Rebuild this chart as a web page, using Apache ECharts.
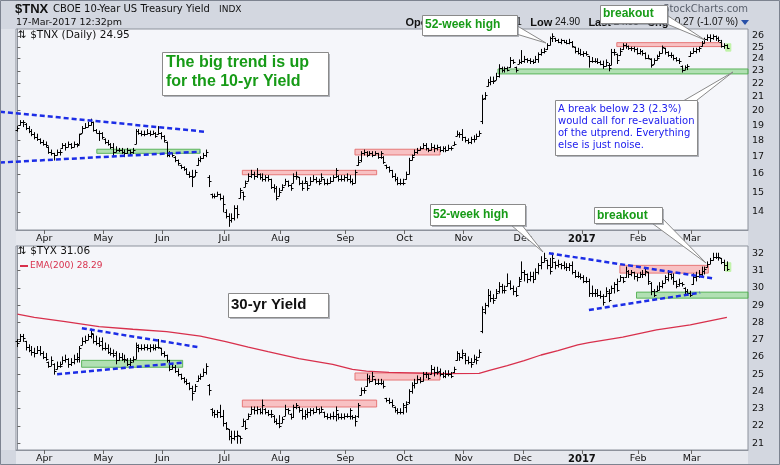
<!DOCTYPE html>
<html><head><meta charset="utf-8">
<script src="https://cdn.jsdelivr.net/npm/echarts@6.0.0/dist/echarts.min.js"></script>
<style>html,body{margin:0;padding:0;background:#d3d7e0}#c{width:780px;height:465px}</style>
</head><body><div id="c"></div>
<script>
// ---- categories / ticks (bar index of month boundaries; bar 0 = 17-Mar-2016, bar 252 = 17-Mar-2017)
const monthTickIdx = [9.5,30.5,51.5,73.5,93.5,116.5,137.5,158.5,179.5,200.5,220.5,239.5];
const monthLabels  = ['Apr','May','Jun','Jul','Aug','Sep','Oct','Nov','Dec','2017','Feb','Mar'];
const tnxTickLabels = [14,15,16,17,18,19,20,21,22,23,24,25,26];
const tyxTickLabels = [21,22,23,24,25,26,27,28,29,30,31,32];

// ---- $TNX daily bars [open, high, low, close]
const tnxOHLC = [
[18.7,18.9,18.6,18.8],[19.0,19.3,19.0,19.2],[19.2,19.3,18.9,19.2],[19.1,19.1,18.7,18.8],[18.8,18.9,18.5,18.6],[18.6,18.7,18.3,18.4],[18.4,18.5,18.1,18.2],[18.2,18.4,18.0,18.1],[18.1,18.1,17.8,17.9],[17.9,18.0,17.7,17.8],
[17.8,17.9,17.6,17.7],[17.6,17.6,17.2,17.3],[17.3,17.4,17.1,17.2],[17.2,17.2,16.8,17.1],[17.1,17.4,17.1,17.3],[17.3,17.4,17.1,17.3],[17.5,17.8,17.5,17.7],[17.7,17.8,17.4,17.6],[17.6,17.9,17.6,17.8],[17.8,17.8,17.5,17.6],
[17.6,17.9,17.6,17.8],[17.8,17.8,17.6,17.7],[17.8,18.4,17.8,18.4],[18.5,18.9,18.5,18.8],[18.8,19.1,18.8,18.9],[18.9,19.2,18.9,19.0],[19.0,19.4,19.0,19.2],[19.2,19.2,18.6,18.7],[18.7,18.7,18.5,18.5],[18.5,18.6,18.0,18.5],
[18.5,18.5,18.1,18.2],[18.1,18.1,17.8,17.9],[17.9,18.0,17.7,17.8],[17.8,17.8,17.5,17.6],[17.6,17.8,17.0,17.3],[17.3,17.6,17.3,17.4],[17.4,17.5,17.3,17.4],[17.4,17.5,17.2,17.3],[17.3,17.4,17.0,17.2],[17.2,17.5,17.2,17.4],
[17.4,17.4,17.1,17.3],[17.3,17.5,17.2,17.4],[17.8,18.7,17.8,18.6],[18.6,18.7,18.4,18.5],[18.5,18.6,18.3,18.4],[18.4,18.6,18.3,18.4],[18.4,18.7,18.4,18.5],[18.5,18.6,18.3,18.4],[18.4,18.6,18.4,18.5],[18.5,18.5,18.2,18.3],
[18.4,18.9,18.4,18.5],[18.5,18.5,18.1,18.3],[18.3,18.3,17.9,18.0],[17.9,17.9,17.0,17.1],[17.1,17.3,17.0,17.2],[17.2,17.2,17.0,17.1],[17.0,17.0,16.7,16.8],[16.8,16.8,16.5,16.6],[16.5,16.5,16.3,16.4],[16.4,16.4,16.2,16.3],
[16.3,16.3,16.0,16.0],[16.0,16.1,15.8,15.9],[15.9,16.2,15.3,15.8],[15.9,16.2,15.9,16.1],[16.5,16.9,16.5,16.8],[16.8,17.0,16.7,16.9],[16.9,17.2,16.9,17.1],[17.1,17.4,17.0,17.3],[15.8,15.9,15.3,15.6],[14.9,14.9,14.7,14.8],
[14.8,14.9,14.7,14.8],[14.8,15.0,14.8,14.9],[14.9,14.9,14.6,14.7],[14.7,14.8,14.0,14.4],[14.0,14.1,13.7,13.8],[13.8,13.9,13.3,13.6],[13.6,13.9,13.5,13.7],[13.7,14.3,13.6,14.2],[14.2,14.3,13.7,13.9],[14.7,15.2,14.7,15.1],
[15.0,15.0,14.6,14.8],[15.3,15.6,15.3,15.5],[15.6,16.0,15.6,15.9],[15.9,16.2,15.8,16.0],[16.0,16.1,15.7,15.9],[15.9,16.3,15.8,16.0],[16.0,16.0,15.7,15.8],[15.8,16.0,15.6,15.7],[15.7,15.9,15.6,15.8],[15.8,15.9,15.6,15.7],
[15.7,15.7,15.2,15.3],[15.3,15.4,15.0,15.2],[15.2,15.3,14.6,14.7],[14.8,15.2,14.8,15.0],[15.1,15.4,15.1,15.3],[15.4,15.7,15.4,15.6],[15.6,15.6,15.3,15.4],[15.4,15.4,15.1,15.2],[15.5,16.0,15.5,15.9],[15.9,16.1,15.7,15.9],
[15.8,15.8,15.4,15.5],[15.5,15.6,15.1,15.2],[15.5,15.8,15.5,15.6],[15.5,15.5,15.1,15.2],[15.4,15.8,15.4,15.6],[15.6,15.9,15.6,15.7],[15.7,15.8,15.5,15.6],[15.6,15.7,15.4,15.5],[15.6,16.0,15.6,15.8],[15.7,15.7,15.4,15.5],
[15.5,15.7,15.4,15.5],[15.5,15.8,15.5,15.6],[15.6,15.9,15.6,15.8],[15.8,16.3,15.8,16.2],[15.9,15.9,15.6,15.7],[15.7,15.9,15.6,15.7],[15.7,15.9,15.6,15.8],[15.8,16.0,15.6,15.7],[15.7,15.9,15.5,15.6],[15.6,15.7,15.4,15.5],
[15.5,16.2,15.5,16.1],[16.5,17.0,16.5,16.7],[16.8,17.3,16.7,17.2],[17.2,17.4,17.1,17.3],[17.3,17.3,17.0,17.1],[17.1,17.3,17.1,17.2],[17.2,17.3,17.0,17.1],[17.1,17.3,17.1,17.2],[17.2,17.2,16.9,17.0],[17.0,17.3,16.9,17.2],
[17.0,17.0,16.6,16.7],[16.5,16.5,16.3,16.4],[16.4,16.4,16.1,16.2],[16.2,16.2,15.8,15.9],[15.9,16.0,15.6,15.7],[15.7,15.8,15.4,15.5],[15.5,15.7,15.4,15.5],[15.5,15.7,15.4,15.5],[15.7,16.1,15.7,16.0],[16.0,16.9,16.0,16.8],
[16.8,17.1,16.8,17.0],[17.1,17.4,17.1,17.3],[17.3,17.5,17.2,17.4],[17.4,17.6,17.4,17.5],[17.5,17.8,17.5,17.7],[17.7,17.8,17.4,17.5],[17.5,17.5,17.3,17.4],[17.4,17.8,17.4,17.6],[17.6,17.7,17.3,17.5],[17.5,17.7,17.4,17.6],
[17.6,17.6,17.3,17.4],[17.4,17.6,17.3,17.5],[17.5,17.6,17.3,17.4],[17.4,17.7,17.4,17.5],[17.5,17.6,17.4,17.5],[17.7,17.9,17.7,17.8],[18.3,18.6,18.3,18.4],[18.4,18.5,18.2,18.4],[18.4,18.7,18.0,18.2],[18.2,18.2,17.9,18.0],
[18.0,18.1,17.8,17.9],[17.9,18.2,17.8,18.1],[18.1,18.3,17.9,18.1],[18.1,18.4,18.1,18.3],[18.3,18.6,18.3,18.5],[19.3,21.1,19.1,20.8],[20.9,21.3,20.8,21.1],[21.8,22.3,21.8,22.1],[22.1,22.5,21.9,22.2],[22.2,22.5,22.0,22.2],
[22.3,22.8,22.3,22.6],[22.6,23.5,22.5,23.2],[23.2,23.3,22.9,23.1],[23.1,23.3,22.9,23.2],[23.2,23.3,23.0,23.1],[23.3,24.1,23.3,23.9],[23.9,23.9,23.6,23.7],[23.3,23.3,22.9,23.1],[23.6,23.9,23.6,23.7],[23.7,24.7,23.6,23.8],
[23.8,24.2,23.7,24.0],[24.0,24.0,23.7,23.9],[23.9,24.0,23.6,23.8],[23.8,23.9,23.6,23.7],[23.7,24.2,23.7,24.0],[24.0,24.5,23.7,24.4],[24.4,24.8,24.3,24.6],[24.6,24.9,24.5,24.7],[24.8,25.3,24.8,25.2],[25.2,25.9,25.2,25.8],
[25.8,26.2,25.5,26.0],[25.8,25.8,25.5,25.6],[25.6,25.7,25.4,25.5],[25.5,25.7,25.3,25.6],[25.6,25.6,25.4,25.5],[25.5,25.6,25.3,25.4],[25.4,25.7,25.3,25.5],[25.5,25.5,25.0,25.1],[25.0,25.0,24.5,24.7],[24.7,24.9,24.4,24.5],
[24.5,24.8,24.3,24.4],[24.4,24.6,24.2,24.5],[24.5,24.6,24.3,24.4],[24.2,24.2,23.3,23.8],[23.8,24.1,23.7,23.8],[23.8,24.0,23.7,23.8],[23.8,24.0,23.6,23.7],[23.7,23.8,23.5,23.6],[23.6,23.8,23.2,23.4],[23.4,23.9,23.4,23.7],
[23.5,23.6,23.0,23.2],[23.5,24.8,23.5,24.6],[24.6,24.8,24.3,24.6],[24.4,24.4,23.6,23.9],[24.3,24.9,24.3,24.7],[24.8,25.3,24.8,25.2],[25.2,25.3,24.9,25.1],[25.1,25.1,24.8,24.9],[24.9,25.0,24.7,24.9],[24.9,25.0,24.6,24.8],
[24.8,24.9,24.4,24.5],[24.5,24.8,24.4,24.7],[24.7,24.7,24.3,24.5],[24.5,24.5,24.0,24.1],[24.1,24.3,24.0,24.1],[24.0,24.0,23.3,23.5],[23.6,24.0,23.6,23.9],[23.9,24.3,23.9,24.1],[24.2,24.6,24.2,24.5],[24.5,25.1,24.5,25.0],
[24.9,24.9,24.4,24.6],[24.6,24.6,24.2,24.3],[24.3,24.5,24.1,24.3],[24.3,24.3,23.9,24.1],[24.1,24.1,23.8,23.9],[23.9,24.0,23.6,23.8],[23.4,23.4,22.9,23.1],[23.1,23.4,23.1,23.3],[23.3,23.5,23.1,23.4],[24.2,24.6,24.2,24.5],
[24.5,24.9,24.5,24.7],[24.7,24.9,24.5,24.8],[24.8,25.0,24.6,24.9],[25.1,25.5,25.1,25.4],[25.4,25.8,25.4,25.7],[25.7,26.1,25.6,25.9],[25.9,26.1,25.5,25.8],[25.8,26.1,25.7,26.0],[26.0,26.0,25.6,25.8],[25.8,25.9,25.5,25.6],
[25.5,25.6,25.0,25.1],[25.1,25.3,24.9,25.2],[25.2,25.2,24.9,24.95]
];

// ---- $TYX daily bars [open, high, low, close]
const tyxOHLC = [
[26.9,27.0,26.6,26.8],[26.9,27.3,26.9,27.2],[27.2,27.3,26.9,27.1],[26.9,26.9,26.4,26.6],[26.6,26.7,26.3,26.4],[26.4,26.6,26.1,26.3],[26.3,26.5,26.0,26.2],[26.2,26.6,26.2,26.4],[26.4,26.6,26.1,26.2],[26.2,26.3,25.9,26.0],
[26.0,26.2,25.8,25.9],[25.7,25.7,25.4,25.5],[25.5,26.0,25.5,25.8],[25.6,25.6,25.0,25.2],[25.3,25.7,25.3,25.5],[25.5,25.7,25.4,25.5],[25.6,26.0,25.6,25.8],[25.8,26.1,25.7,25.9],[25.9,25.9,25.4,25.6],[25.6,25.9,25.5,25.7],
[25.7,26.1,25.6,25.9],[25.9,26.2,25.7,26.0],[25.9,26.6,25.7,26.5],[26.7,27.1,26.7,26.9],[26.9,27.2,26.8,27.0],[27.0,27.3,27.0,27.2],[27.2,27.6,27.1,27.4],[27.3,27.3,26.8,26.9],[26.9,27.2,26.7,26.8],[26.8,27.1,26.6,26.7],
[26.9,27.1,26.4,26.5],[26.5,26.8,26.4,26.5],[26.5,26.7,26.2,26.3],[26.3,26.5,26.1,26.2],[26.2,26.4,26.0,26.1],[26.2,26.3,25.6,25.8],[25.8,26.2,25.8,26.0],[26.0,26.2,25.8,25.9],[25.9,26.1,25.7,25.9],[25.8,25.9,25.5,25.6],
[25.6,25.9,25.4,25.7],[25.8,26.0,25.7,25.9],[25.9,26.8,25.9,26.7],[26.6,26.7,26.3,26.5],[26.5,26.7,26.4,26.5],[26.5,26.7,26.4,26.6],[26.6,26.7,26.4,26.5],[26.5,26.7,26.3,26.6],[26.6,26.7,26.4,26.5],[26.5,26.7,26.4,26.6],
[26.6,27.0,26.5,26.6],[26.5,26.5,26.1,26.2],[26.2,26.3,26.0,26.1],[26.1,26.1,25.7,25.8],[25.8,25.8,25.2,25.3],[25.3,25.6,25.3,25.4],[25.4,25.5,25.1,25.2],[25.2,25.3,24.9,25.0],[25.0,25.0,24.7,24.8],[24.8,24.8,24.5,24.6],
[24.6,24.7,24.4,24.5],[24.5,24.5,24.1,24.2],[24.2,24.3,23.5,23.9],[24.0,24.4,24.0,24.3],[24.6,24.9,24.6,24.8],[24.8,25.0,24.7,24.9],[24.9,25.3,24.9,25.1],[25.1,25.6,25.0,25.5],[24.4,24.4,23.8,24.1],[23.0,23.0,22.6,22.8],
[22.8,22.9,22.5,22.7],[22.7,22.9,22.5,22.8],[22.8,23.2,22.5,22.6],[22.6,22.9,22.0,22.2],[22.2,22.2,21.8,21.9],[21.8,21.8,21.2,21.4],[21.4,21.7,21.0,21.3],[21.3,21.7,21.2,21.4],[21.4,21.7,21.0,21.5],[21.4,21.4,21.0,21.3],
[22.0,22.4,22.0,22.3],[22.3,22.3,21.8,21.9],[22.4,22.7,22.4,22.6],[22.7,23.1,22.7,23.0],[23.0,23.1,22.7,22.9],[22.9,23.1,22.7,23.0],[23.0,23.0,22.7,22.8],[22.8,23.5,22.7,23.2],[23.0,23.0,22.7,22.8],[22.8,22.9,22.6,22.7],
[22.7,22.9,22.5,22.7],[22.6,22.6,22.2,22.3],[22.3,22.4,22.1,22.2],[22.2,22.6,21.9,22.0],[22.2,22.5,22.2,22.4],[22.6,23.2,22.6,23.0],[23.0,23.0,22.7,22.9],[22.7,22.7,22.4,22.5],[22.5,23.2,22.5,23.1],[23.1,23.3,23.0,23.2],
[23.1,23.1,22.8,22.9],[22.9,23.0,22.4,22.6],[22.6,22.9,22.4,22.7],[22.7,23.0,22.5,22.8],[22.8,23.0,22.6,22.9],[22.9,23.0,22.7,22.8],[22.8,23.1,22.8,23.0],[23.0,23.0,22.7,22.8],[22.8,23.1,22.8,23.0],[22.8,22.8,22.5,22.6],
[22.6,22.7,22.4,22.5],[22.5,22.7,22.4,22.6],[22.6,22.8,22.4,22.6],[22.6,23.1,22.3,22.9],[22.7,22.7,22.4,22.5],[22.5,22.7,22.4,22.5],[22.5,22.7,22.4,22.6],[22.6,22.7,22.5,22.6],[22.6,23.0,22.4,22.9],[22.6,22.6,22.4,22.5],
[22.5,22.6,22.0,22.3],[22.6,23.3,22.5,23.2],[23.8,24.2,23.8,24.1],[24.1,24.2,23.9,24.1],[24.3,25.0,24.3,24.8],[24.8,24.9,24.5,24.6],[24.6,25.1,24.6,24.9],[24.7,24.7,24.4,24.5],[24.5,24.7,24.4,24.5],[24.5,24.7,24.4,24.5],
[24.5,24.6,24.2,24.3],[23.6,23.6,23.4,23.5],[23.5,23.6,23.3,23.4],[23.4,23.5,23.1,23.2],[23.1,23.1,22.8,22.9],[22.9,23.0,22.7,22.8],[22.8,23.0,22.7,22.8],[22.8,23.3,22.7,23.2],[23.1,23.4,22.8,23.3],[23.4,24.1,23.3,24.0],
[24.0,24.5,23.9,24.4],[24.4,24.7,24.2,24.5],[24.5,24.9,24.5,24.7],[24.7,24.8,24.5,24.6],[24.6,25.1,24.6,25.0],[25.0,25.1,24.8,25.0],[25.0,25.0,24.7,24.8],[25.0,25.5,25.0,25.3],[25.3,25.4,24.9,25.1],[25.1,25.4,25.0,25.1],
[25.2,25.3,24.9,25.0],[25.0,25.1,24.8,24.9],[24.9,25.2,24.8,25.0],[25.0,25.2,24.9,25.0],[25.0,25.1,24.8,24.9],[25.1,25.4,25.1,25.3],[25.8,26.3,25.8,26.2],[26.2,26.2,25.8,26.0],[26.0,26.4,25.9,26.2],[26.1,26.2,25.6,25.8],
[25.8,26.0,25.6,25.7],[25.7,25.9,25.4,25.6],[25.7,26.1,25.7,25.9],[25.9,26.0,25.6,25.8],[26.0,26.4,26.0,26.3],[27.5,28.9,27.4,28.8],[28.6,29.1,28.5,29.0],[29.0,29.9,28.9,29.6],[29.6,29.8,29.2,29.4],[29.4,29.6,29.1,29.3],
[29.4,29.9,29.4,29.7],[29.8,30.3,29.7,30.1],[30.1,30.2,29.7,29.9],[29.9,30.1,29.7,29.9],[30.1,30.8,30.1,30.3],[30.3,30.4,29.9,30.0],[30.0,30.1,29.6,29.8],[29.8,30.0,29.5,29.6],[30.1,30.6,30.1,30.4],[30.5,31.5,30.5,30.9],
[30.9,31.0,30.4,30.8],[30.8,30.8,30.3,30.5],[30.5,30.9,30.4,30.7],[30.7,30.9,30.3,30.5],[30.5,31.1,30.5,30.9],[30.9,31.4,30.8,31.3],[31.3,31.8,31.1,31.5],[31.5,32.0,31.5,31.7],[31.6,31.6,31.1,31.3],[31.3,31.7,30.8,31.0],
[31.2,32.0,31.2,31.7],[31.5,31.5,31.1,31.3],[31.3,31.6,31.2,31.4],[31.4,31.4,31.1,31.3],[31.3,31.5,31.1,31.2],[31.2,31.4,31.0,31.2],[31.2,31.4,31.0,31.3],[31.3,31.5,30.8,30.9],[30.9,31.0,30.6,30.7],[30.7,30.9,30.6,30.7],
[30.7,30.8,30.5,30.6],[30.6,30.7,30.3,30.4],[30.4,30.6,30.3,30.4],[30.4,30.5,29.5,29.7],[29.7,30.1,29.5,29.7],[29.7,29.9,29.5,29.7],[29.7,29.9,29.5,29.6],[29.6,29.8,29.4,29.5],[29.5,29.6,29.0,29.2],[29.5,30.0,29.5,29.8],
[29.7,29.9,29.2,29.3],[29.7,30.1,29.7,30.0],[30.0,30.3,29.7,30.2],[30.2,30.5,29.8,29.9],[30.4,30.7,30.4,30.6],[30.6,30.6,30.3,30.4],[30.6,31.2,30.6,31.0],[31.0,31.0,30.6,30.8],[30.8,31.0,30.7,30.9],[30.9,30.9,30.5,30.7],
[30.7,30.8,30.4,30.6],[30.6,30.9,30.6,30.8],[30.8,31.0,30.6,30.8],[30.8,31.1,30.7,31.0],[30.9,30.9,30.2,30.4],[30.3,30.3,29.6,29.8],[29.8,29.9,29.5,29.6],[29.8,30.1,29.8,29.9],[29.9,30.3,29.9,30.1],[30.1,30.4,30.0,30.3],
[30.3,30.7,30.3,30.6],[30.5,31.0,30.4,30.9],[30.8,30.8,30.5,30.6],[30.6,30.8,30.2,30.4],[30.4,30.4,30.0,30.1],[30.2,30.5,30.1,30.3],[30.3,30.3,30.1,30.2],[30.0,30.0,29.6,29.8],[29.8,29.9,29.6,29.7],[29.7,29.8,29.5,29.6],
[30.2,30.8,30.2,30.6],[30.6,30.9,30.4,30.7],[30.7,31.0,30.6,30.8],[30.8,31.2,30.7,31.0],[31.0,31.2,30.8,31.1],[31.2,31.5,31.2,31.4],[31.4,31.7,31.4,31.6],[31.6,32.0,31.6,31.8],[31.8,32.0,31.7,31.8],[31.8,32.0,31.6,31.8],
[31.7,31.7,31.4,31.5],[31.5,31.6,31.0,31.3],[31.3,31.5,31.0,31.06]
];

// ---- EMA(200) of $TYX, read at bar positions [barIndex, value]
const tyxEma200 = [[0,28.47],[6,28.29],[17,28.04],[29,27.75],[41,27.6],[53,27.46],[65,27.2],[74,26.88],[82,26.56],[89,26.3],[100,25.9],[112,25.57],[119,25.28],[124,25.18],[132,25.1],[150,25.03],[164,25.05],[168,25.24],[174,25.5],[180,25.78],[186,26.11],[192,26.36],[199,26.69],[203,26.82],[215,27.14],[227,27.56],[239,27.85],[252,28.29]];

// ---- shaded zones [fromBar, toBar, lowValue, highValue, kind(0 green,1 red,2 last)]
const tnxBands = [[28.2,64.9,17.2,17.45,0],[79.9,127.6,15.95,16.2,1],[119.9,150.1,17.1,17.45,1],[170.7,259.5,22.75,23.15,0],[212.9,250.2,25.05,25.4,1],[251.6,253.4,24.65,25.3,2]];
const tyxBands = [[22.8,58.7,25.4,25.8,0],[79.9,127.6,23.1,23.5,1],[119.9,150.1,24.66,25.07,1],[214,245.4,30.85,31.3,1],[219.9,259.5,29.4,29.75,0],[251.6,253.4,30.95,31.45,2]];

// ---- trend lines [fromBar, fromValue, toBar, toValue]
const tnxTrendLines = [[-6.2,19.92,66.6,18.56],[-6.2,16.65,64.9,17.3]];
const tyxTrendLines = [[22.9,27.66,64.5,26.56],[14.1,25.0,58.8,25.67],[188.8,32.0,247.1,30.55],[203,28.72,242.5,29.72]];

const bandStyles = [
  {fill:'rgba(120,205,120,0.55)', stroke:'rgba(80,175,80,0.9)'},
  {fill:'rgba(250,150,150,0.55)', stroke:'rgba(228,110,110,0.9)'},
  {fill:'rgba(190,242,165,0.95)', stroke:'rgba(190,242,165,0.95)'}
];

const SM = '"DejaVu Sans", Verdana, sans-serif';
const AR = '"Liberation Sans", Arial, sans-serif';

function clipRect(r, c){
  const x0 = Math.max(r.x, c.x), y0 = Math.max(r.y, c.y);
  const x1 = Math.min(r.x + r.width, c.x + c.width), y1 = Math.min(r.y + r.height, c.y + c.height);
  if (x1 <= x0 || y1 <= y0) return null;
  return {x:x0, y:y0, width:x1-x0, height:y1-y0};
}
function renderBand(params, api){
  const p0 = api.coord([api.value(0), api.value(3)]);
  const p1 = api.coord([api.value(1), api.value(2)]);
  const cs = params.coordSys;
  const shape = clipRect({x:p0[0], y:p0[1], width:p1[0]-p0[0], height:p1[1]-p0[1]}, {x:cs.x, y:cs.y, width:cs.width, height:cs.height});
  if (!shape) return null;
  const st = bandStyles[api.value(4)];
  return {type:'rect', shape:shape, style:{fill:st.fill, stroke:st.stroke, lineWidth:1}};
}
function renderOHLC(params, api){
  const i = api.value(0);
  const o = api.coord([i, api.value(1)]);
  const h = api.coord([i, api.value(2)]);
  const l = api.coord([i, api.value(3)]);
  const c = api.coord([i, api.value(4)]);
  const x = Math.round(o[0]) + 0.5;
  const st = {stroke:'#000', lineWidth:1};
  return {type:'group', children:[
    {type:'line', shape:{x1:x, y1:h[1]-0.5, x2:x, y2:l[1]+0.5}, style:st},
    {type:'line', shape:{x1:x-2, y1:Math.round(o[1])+0.5, x2:x, y2:Math.round(o[1])+0.5}, style:st},
    {type:'line', shape:{x1:x, y1:Math.round(c[1])+0.5, x2:x+2, y2:Math.round(c[1])+0.5}, style:st}
  ]};
}
function renderTrend(params, api){
  const a = api.coord([api.value(0), api.value(1)]);
  const b = api.coord([api.value(2), api.value(3)]);
  return {type:'line', shape:{x1:a[0], y1:a[1], x2:b[0], y2:b[1]},
    style:{stroke:'#1c2de6', lineWidth:2.5, lineDash:[5,3]}};
}

const ln = Math.log;
const tnxData = tnxOHLC.map((b,i)=>[i, ln(b[0]), ln(b[1]), ln(b[2]), ln(b[3])]);
const tyxData = tyxOHLC.map((b,i)=>[i, b[0], b[1], b[2], b[3]]);
const tnxBandData = tnxBands.map(b=>[b[0], b[1], ln(b[2]), ln(b[3]), b[4]]);
const tyxBandData = tyxBands.map(b=>[b[0], b[1], b[2], b[3], b[4]]);
const tnxTrendData = tnxTrendLines.map(t=>[t[0], ln(t[1]), t[2], ln(t[3])]);
const tyxTrendData = tyxTrendLines.map(t=>[t[0], t[1], t[2], t[3]]);

function monthLabel(v){
  const k = monthTickIdx.findIndex(t=>Math.abs(t-v)<1e-6);
  if (k < 0) return '';
  const s = monthLabels[k];
  return s === '2017' ? '{b|' + s + '}' : s;
}
const axisCol = '#8d929c';
function xAxisCfg(gi){
  return {type:'value', gridIndex:gi, min:-0.5, max:259.5,
    axisLine:{show:true, lineStyle:{color:axisCol}},
    axisTick:{show:true, customValues:monthTickIdx, length:4, lineStyle:{color:'#666'}},
    axisLabel:{customValues:monthTickIdx, formatter:monthLabel, margin:4, fontSize:9.5, fontFamily:SM, color:'#111',
      rich:{b:{fontWeight:'bold', fontSize:10, fontFamily:SM, color:'#111'}}},
    splitLine:{show:false}};
}
function yAxisCfg(gi, min, max, vals, fmt){
  return {type:'value', gridIndex:gi, position:'right', min:min, max:max,
    axisLine:{show:true, lineStyle:{color:axisCol}},
    axisTick:{show:true, customValues:vals, length:3, lineStyle:{color:'#666'}},
    axisLabel:{customValues:vals, formatter:fmt, margin:4, fontSize:9.5, fontFamily:SM, color:'#111'},
    splitLine:{show:false}};
}

const series = [
  {type:'custom', xAxisIndex:0, yAxisIndex:0, renderItem:renderBand, data:tnxBandData, encode:{x:[0,1], y:[2,3]}, z:1, silent:true},
  {type:'custom', xAxisIndex:0, yAxisIndex:0, renderItem:renderOHLC, data:tnxData, encode:{x:0, y:[1,2,3,4]}, z:3, silent:true},
  {type:'custom', xAxisIndex:0, yAxisIndex:0, renderItem:renderTrend, data:tnxTrendData, encode:{x:[0,2], y:[1,3]}, clip:false, z:5, silent:true},
  {type:'custom', xAxisIndex:1, yAxisIndex:1, renderItem:renderBand, data:tyxBandData, encode:{x:[0,1], y:[2,3]}, z:1, silent:true},
  {type:'line', xAxisIndex:1, yAxisIndex:1, data:tyxEma200, symbol:'none', silent:true, lineStyle:{color:'#d8304c', width:1.3}, z:2},
  {type:'custom', xAxisIndex:1, yAxisIndex:1, renderItem:renderOHLC, data:tyxData, encode:{x:0, y:[1,2,3,4]}, z:3, silent:true},
  {type:'custom', xAxisIndex:1, yAxisIndex:1, renderItem:renderTrend, data:tyxTrendData, encode:{x:[0,2], y:[1,3]}, clip:false, z:5, silent:true}
];

// ---- graphics: header, legends, annotation boxes
const G = [];
function txt(x, y, s, font, fill, align, z, rich){
  const st = {x:x, y:y, text:s, font:font, fill:fill, textAlign:align||'left', textVerticalAlign:'middle'};
  if (rich) st.rich = rich;
  G.push({type:'text', z:z||110, silent:true, style:st});
}
function box(x, y, w, h){
  G.push({type:'rect', z:101, silent:true, shape:{x:x+2, y:y+2, width:w, height:h}, style:{fill:'rgba(120,125,135,0.55)'}});
  G.push({type:'rect', z:102, silent:true, shape:{x:x+0.5, y:y+0.5, width:w, height:h}, style:{fill:'#ffffff', stroke:'#8a8a8a', lineWidth:1}});
}
function pointer(pts){
  G.push({type:'polygon', z:100, silent:true, shape:{points:pts}, style:{fill:'#ffffff', stroke:'#8a8a8a', lineWidth:1}});
}
G.push({type:'rect', z:-10, silent:true, shape:{x:16, y:231, width:732, height:15}, style:{fill:'#e6e8ee'}});
G.push({type:'rect', z:-10, silent:true, shape:{x:16, y:451, width:732, height:13}, style:{fill:'#e6e8ee'}});
G.push({type:'rect', z:-10, silent:true, shape:{x:1, y:29, width:15, height:421}, style:{fill:'#dfe2e9'}});
G.push({type:'rect', z:200, silent:true, shape:{x:0.5, y:0.5, width:779, height:464}, style:{fill:null, stroke:'#7d8390', lineWidth:1}});

txt(15, 9.5, '$TNX', 'bold 13px ' + AR, '#111');
txt(53, 9.5, 'CBOE 10-Year US Treasury Yield', '10px ' + SM, '#111');
txt(219, 10, 'INDX', '9px ' + SM, '#111');
txt(16, 22.5, '17-Mar-2017 12:32pm', '9.5px ' + SM, '#111');
txt(748, 9, 'StockCharts.com', '10px ' + SM, '#5a606c', 'right', 50);
txt(738, 22.5, '{b|Open} {v|25.12}   {b|High} {v|25.21}   {b|Low} {v|24.90}   {b|Last} {v|24.95}   {b|Chg} {v|-0.27 (-1.07 %)}',
  '10px ' + AR, '#111', 'right', 50,
  {b:{font:'bold 11px ' + AR, fill:'#111'}, v:{font:'10px ' + AR, fill:'#111'}});
G.push({type:'polygon', z:50, silent:true, shape:{points:[[741,20],[749,20],[745,25]]}, style:{fill:'#2850a8'}});

txt(18, 35, '\u21c5 $TNX (Daily) 24.95', '10.5px ' + SM, '#111', 'left', 60);
txt(18, 251, '\u21c5 $TYX 31.06', '10.5px ' + SM, '#111', 'left', 60);
G.push({type:'rect', z:60, silent:true, shape:{x:20, y:265, width:8, height:2}, style:{fill:'#d8304c'}});
txt(30, 266, 'EMA(200) 28.29', '9px ' + SM, '#d8304c', 'left', 60);

box(162, 52, 166, 43);
txt(166, 63, 'The big trend is up', 'bold 16px ' + AR, '#179b17');
txt(166, 81.5, 'for the 10-yr Yield', 'bold 16px ' + AR, '#179b17');

pointer([[503,30],[514,24],[546,43]]);
box(422, 15, 95, 20);
txt(425, 25, '52-week high', 'bold 12px ' + AR, '#179b17');

pointer([[655,19],[662,12],[705,40]]);
box(600, 5, 67, 18);
txt(603, 14, 'breakout', 'bold 12px ' + AR, '#179b17');

pointer([[678,104],[692,104],[733,72]]);
box(555, 100, 142, 55);
txt(558, 109.5, 'A break below 23 (2.3%)', '10px ' + SM, '#2020ee');
txt(558, 121.5, 'would call for re-evaluation', '10px ' + SM, '#2020ee');
txt(558, 133.5, 'of the utprend. Everything', '10px ' + SM, '#2020ee');
txt(558, 145.5, 'else is just noise.', '10px ' + SM, '#2020ee');

box(228, 293, 100, 24);
txt(231, 305, '30-yr Yield', 'bold 15px ' + AR, '#111');

pointer([[505,220],[518,220],[543,252]]);
box(430, 204, 95, 21);
txt(433, 214.5, '52-week high', 'bold 12px ' + AR, '#179b17');

pointer([[645,218],[658,214],[706,263]]);
box(594, 207, 68, 16);
txt(597, 215.5, 'breakout', 'bold 12px ' + AR, '#179b17');

const chart = echarts.init(document.getElementById('c'), null, {renderer:'canvas', width:780, height:465});
chart.setOption({
  animation:false,
  backgroundColor:'#d3d7e0',
  grid:[
    {left:16, top:29, width:732, height:201, show:true, backgroundColor:'#f5f6fa', borderColor:axisCol, borderWidth:1},
    {left:16, top:246, width:732, height:204, show:true, backgroundColor:'#f5f6fa', borderColor:axisCol, borderWidth:1}
  ],
  xAxis:[xAxisCfg(0), xAxisCfg(1)],
  yAxis:[
    yAxisCfg(0, ln(13.13), ln(26.65), tnxTickLabels.map(ln), v=>String(Math.round(Math.exp(v)))),
    yAxisCfg(1, 20.61, 32.42, tyxTickLabels, v=>String(Math.round(v)))
  ],
  series:series,
  graphic:{elements:G}
});
</script>
</body></html>
